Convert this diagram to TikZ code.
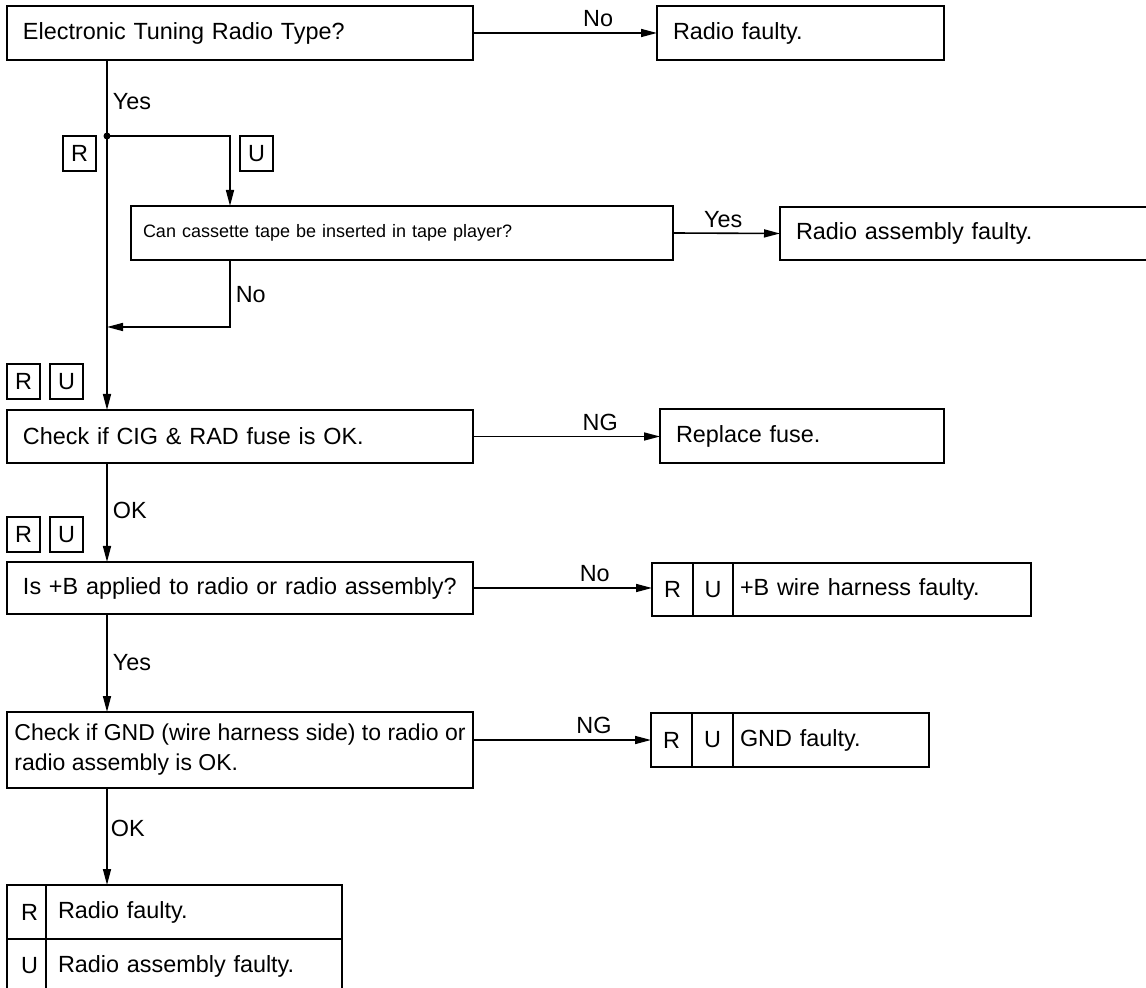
\documentclass[tikz,border=0pt]{standalone}
\usepackage{fontspec}
\setmainfont{Liberation Sans}
\usepackage{tikz}
\usetikzlibrary{positioning,arrows.meta}

\begin{document}
\begin{tikzpicture}[
  x=0.5pt, y=-0.5pt,
  font=\fontsize{11.7}{14}\selectfont,
  >={Triangle[length=8pt,width=4pt]},
  stepbox/.style={
    draw, line width=1.2pt, anchor=north west, align=left,
    inner xsep=8pt, inner ysep=0pt, outer sep=0pt, minimum height=27pt
  },
  cell/.style={
    draw, line width=1.2pt, anchor=north west, align=center,
    inner sep=0pt, outer sep=0pt, minimum height=26.5pt
  },
  tag/.style={
    draw, line width=1.2pt, anchor=north west, inner sep=0pt, outer sep=0pt,
    minimum width=16.5pt, minimum height=17.5pt
  },
  flow/.style={->, line width=0.8pt},
  lbl/.style={inner sep=2.5pt},
]
\useasboundingbox (0,0) rectangle (1146,988);
\clip (0,0) rectangle (1146,988);

% ---------- Question boxes (left column) ----------
\node[stepbox, text width=217pt] (q1) at (7,6) {Electronic Tuning Radio Type?};
\node[stepbox, text width=259pt, inner xsep=6pt, font=\fontsize{9}{11}\selectfont] (q2) at (131,206)
  {Can cassette tape be inserted in tape player?};
\node[stepbox, text width=217pt, minimum height=26.5pt] (q3) at (7,410) {Check if CIG \& RAD fuse is OK.};
\node[stepbox, text width=217pt, minimum height=26pt] (q4) at (7,562) {Is +B applied to radio or radio assembly?};
\node[stepbox, inner xsep=1.5pt, minimum width=233pt, minimum height=38pt,
      font=\fontsize{11.5}{15}\selectfont] (q5) at (7,712)
  {Check if GND (wire harness side) to radio or\\radio assembly is OK.};

% ---------- Result boxes (right column) ----------
\node[stepbox, text width=127.5pt] (a1) at (657,6) {Radio faulty.};
\node[stepbox, text width=169pt, minimum height=26.5pt] (a2) at (780,207) {Radio assembly faulty.};
\node[stepbox, text width=126pt] (a3) at (660,409) {Replace fuse.};
% +B wire harness
\node[cell, minimum width=20.5pt] (a4r) at (652,563) {R};
\node[cell, minimum width=20pt] (a4u) at (693,563) {U};
\node[cell, text width=142pt, inner xsep=3.5pt, align=left] (a4t) at (733,563) {+B wire harness faulty.};
% GND
\node[cell, minimum width=20.5pt, minimum height=27pt] (a5r) at (651,713) {R};
\node[cell, minimum width=20.5pt, minimum height=27pt] (a5u) at (692,713) {U};
\node[cell, text width=91pt, inner xsep=3.5pt, align=left, minimum height=27pt] (a5t) at (733,713) {GND faulty.};
% final table
\node[cell, minimum width=19.5pt, minimum height=27pt] (r6r) at (7,885) {\hspace{3pt}R};
\node[cell, text width=136pt, inner xsep=6pt, align=left, minimum height=27pt] (r6a) at (46,885) {Radio faulty.};
\node[cell, minimum width=19.5pt, minimum height=27pt] (r6u) at (7,939) {\hspace{3pt}U};
\node[cell, text width=136pt, inner xsep=6pt, align=left, minimum height=27pt] (r6b) at (46,939) {Radio assembly faulty.};

% ---------- Type tags ----------
\node[tag] (tR1) at (63,136) {R};
\node[tag] (tU1) at (240,136) {U};
\node[tag] (tR2) at (7,364) {R};
\node[tag] (tU2) at (50,364) {U};
\node[tag] (tR3) at (7,517) {R};
\node[tag] (tU3) at (50,517) {U};

% ---------- Connectors ----------
\coordinate (j) at (107,136);
\coordinate (k) at (230,136);
\coordinate (m) at (107,327);

\draw[flow] (q1.south -| j) -- node[lbl, right, pos=0.55] (l2) {Yes} (j) -- (q3.north -| j);
\fill (j) circle (3.5);
\draw[flow] (j) -- (k) -- (q2.north -| k);
\draw[flow] (q2.south -| k) -- node[lbl, right, pos=0.52] (l4) {No} (k |- m) -- (m);
\draw[flow] (q3.south -| j) -- node[lbl, right, pos=0.48] (l6) {OK} (q4.north -| j);
\draw[flow] (q4.south -| j) -- node[lbl, right, pos=0.5] (l8) {Yes} (q5.north -| j);
\draw[flow] (q5.south -| j) -- node[lbl, right, inner sep=1.5pt, pos=0.42] (l10) {OK} (r6a.north -| j);

\draw[flow] (q1.east) -- node[lbl, above, pos=0.68] (l1) {No} (a1.west);
\draw[flow] (q2.east) -- node[lbl, above, pos=0.47] (l3) {Yes} (a2.west);
\draw[flow] (q3.east) -- node[lbl, above, pos=0.68] (l5) {NG} (q3.east -| a3.west);
\draw[flow] (q4.east) -- node[lbl, above, pos=0.68] (l7) {No} (q4.east -| a4r.west);
\draw[flow] (q5.east |- a5r.west) -- node[lbl, above, pos=0.68] (l9) {NG} (a5r.west);

\end{tikzpicture}
\end{document}
